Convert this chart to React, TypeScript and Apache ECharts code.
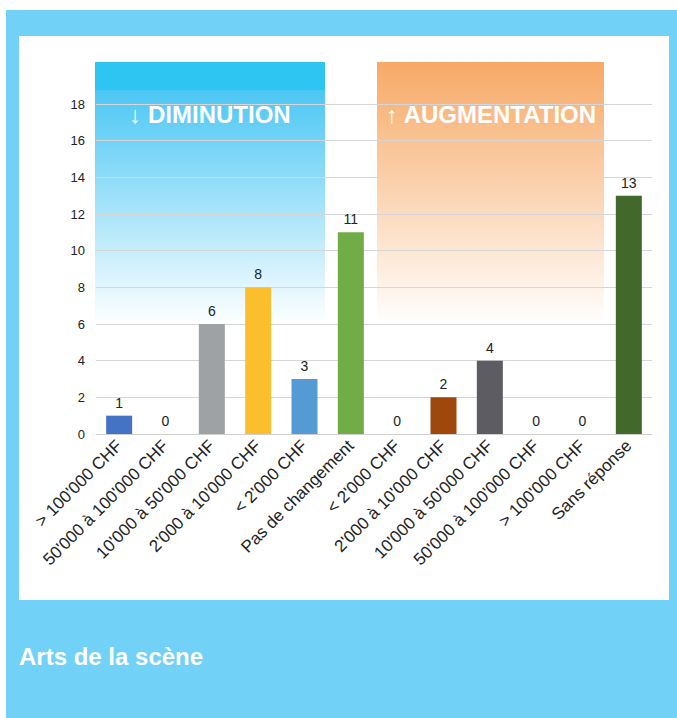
import React, { useEffect, useRef } from "react";
import * as echarts from "echarts";

const categories = [
  "> 100'000 CHF",
  "50'000 à 100'000 CHF",
  "10'000 à 50'000 CHF",
  "2'000 à 10'000 CHF",
  "< 2'000 CHF",
  "Pas de changement",
  "< 2'000 CHF",
  "2'000 à 10'000 CHF",
  "10'000 à 50'000 CHF",
  "50'000 à 100'000 CHF",
  "> 100'000 CHF",
  "Sans réponse",
];
const values = [1, 0, 6, 8, 3, 11, 0, 2, 4, 0, 0, 13];
const barColors = [
  "#4472c4",
  "#4472c4",
  "#9fa2a5",
  "#fbbf2e",
  "#549bd6",
  "#70ad47",
  "#9e480e",
  "#9e480e",
  "#5c5c62",
  "#5c5c62",
  "#5c5c62",
  "#43682b",
];
const yTicks = { min: 0, max: 18, interval: 2 };
const title = "Arts de la scène";
const leftLabel = "↓ DIMINUTION";
const rightLabel = "↑ AUGMENTATION";

const FONT = "'Liberation Sans', Arial, Helvetica, sans-serif";

export default function App() {
  const ref = useRef<HTMLDivElement>(null);
  useEffect(() => {
    if (!ref.current) return;
    const chart = echarts.init(ref.current, undefined, { renderer: "svg" });
    const blueGrad = {
      type: "linear",
      x: 0,
      y: 0,
      x2: 0,
      y2: 1,
      colorStops: [
        { offset: 0, color: "#4cc7f4" },
        { offset: 1, color: "rgba(255,255,255,1)" },
      ],
    };
    const orangeGrad = {
      type: "linear",
      x: 0,
      y: 0,
      x2: 0,
      y2: 1,
      colorStops: [
        { offset: 0, color: "#f7a966" },
        { offset: 1, color: "rgba(255,255,255,1)" },
      ],
    };
    chart.setOption({
      animation: false,
      backgroundColor: "#72d1f7",
      textStyle: { fontFamily: FONT },
      graphic: [
        {
          type: "rect",
          z: -10,
          shape: { x: 13, y: 26, width: 650, height: 564 },
          style: { fill: "#ffffff" },
        },
        {
          type: "rect",
          z: -5,
          shape: { x: 89, y: 80, width: 230, height: 235 },
          style: { fill: blueGrad },
        },
        {
          type: "rect",
          z: -5,
          shape: { x: 89, y: 52, width: 230, height: 28 },
          style: { fill: "#2ec5f3" },
        },
        {
          type: "rect",
          z: -5,
          shape: { x: 371, y: 52, width: 227, height: 263 },
          style: { fill: orangeGrad },
        },
        {
          type: "text",
          z: 10,
          x: 204,
          y: 104,
          style: {
            text: leftLabel,
            fill: "#ffffff",
            font: `bold 24px ${FONT}`,
            textAlign: "center",
            textVerticalAlign: "middle",
          },
        },
        {
          type: "text",
          z: 10,
          x: 485,
          y: 104,
          style: {
            text: rightLabel,
            fill: "#ffffff",
            font: `bold 24px ${FONT}`,
            textAlign: "center",
            textVerticalAlign: "middle",
          },
        },
        {
          type: "text",
          z: 10,
          x: 13,
          y: 646,
          style: {
            text: title,
            fill: "#ffffff",
            font: `bold 24px ${FONT}`,
            textAlign: "left",
            textVerticalAlign: "middle",
          },
        },
      ],
      grid: { left: 90, right: 25, top: 94, bottom: 284 },
      xAxis: {
        type: "category",
        data: categories,
        axisLine: { lineStyle: { color: "#d0d0d0", width: 1 } },
        axisTick: { show: false },
        axisLabel: {
          interval: 0,
          rotate: 45,
          fontSize: 17,
          color: "#222222",
          margin: 9,
          fontFamily: FONT,
        },
      },
      yAxis: {
        type: "value",
        min: yTicks.min,
        max: yTicks.max,
        interval: yTicks.interval,
        axisLine: { show: false },
        axisTick: { show: false },
        splitLine: { lineStyle: { color: "#d6d6d6", width: 1 } },
        axisLabel: { fontSize: 13, color: "#222222", margin: 11, fontFamily: FONT },
      },
      series: [
        {
          type: "bar",
          barWidth: 26,
          data: values.map((v, i) => ({ value: v, itemStyle: { color: barColors[i] } })),
          label: {
            show: true,
            position: "top",
            distance: 6,
            fontSize: 14,
            color: "#222222",
            fontFamily: FONT,
          },
        },
      ],
    });
    return () => chart.dispose();
  }, []);
  return (
    <div
      ref={ref}
      style={{ position: "absolute", left: 6, top: 10, width: 671, height: 708 }}
    />
  );
}
